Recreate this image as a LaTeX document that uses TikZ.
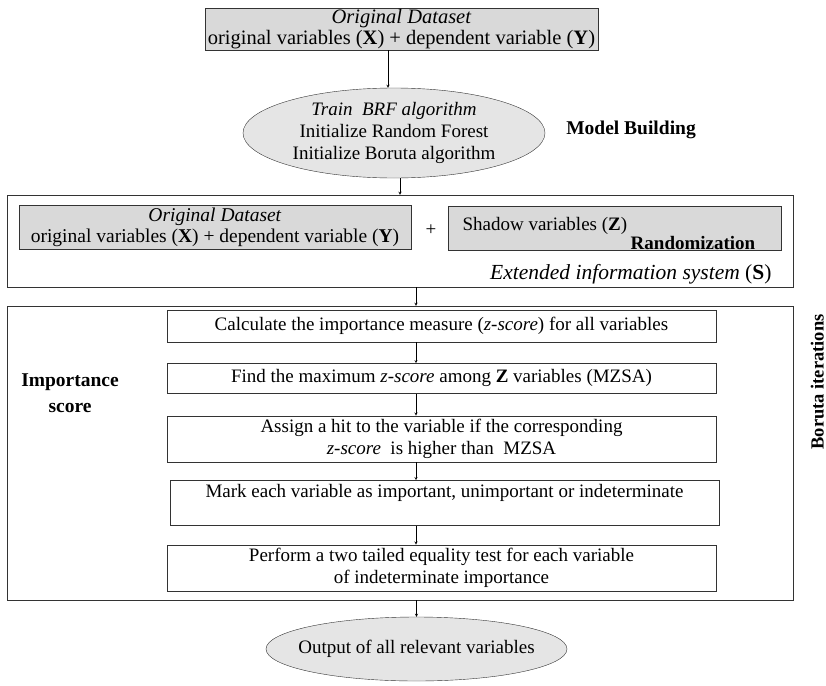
\documentclass[tikz,border=0pt]{standalone}
\usepackage{fontspec}
\setmainfont{Liberation Serif}
\usetikzlibrary{arrows,positioning,shapes,calc}

\begin{document}
\begin{tikzpicture}[
    x=1pt, y=-1pt,
    node distance=20pt,
    font=\fontsize{19}{22}\selectfont,
    data/.style={rectangle, draw=black!80, fill=black!15, align=center, inner sep=1pt},
    oval/.style={ellipse, draw=black!80, fill=black!10, align=center, inner xsep=-14pt, inner ysep=-6pt},
    frame/.style={rectangle, draw=black!80},
    stepbox/.style={rectangle, draw=black!80, minimum width=549pt, align=center},
    label/.style={font=\fontsize{19.5}{26}\selectfont\bfseries, align=center},
    arrow/.style={->, thin, >=stealth}
]
    \useasboundingbox (0,0) rectangle (826,685);

    \node[data, minimum width=393pt, minimum height=42pt, font=\fontsize{20.5}{21}\selectfont] (orig) at (401.5,29)
        {\textit{Original Dataset}\\original variables (\textbf{X}) + dependent variable (\textbf{Y})};
    \node[oval, minimum width=302pt, minimum height=90pt] (train) at (394,133)
        {\textit{Train\ \ BRF algorithm}\\Initialize Random Forest\\Initialize Boruta algorithm};
    \node[label] (build) at (631,130) {Model Building};

    % extended information system
    \node[frame, minimum width=786pt, minimum height=92pt] (ext) at (400,241) {};
    \node[data, minimum width=392pt, minimum height=44pt, font=\fontsize{19.5}{21}\selectfont] (origB) at (215,227)
        {\textit{Original Dataset}\\original variables (\textbf{X}) + dependent variable (\textbf{Y})};
    \node (plus) at (431,230) {+};
    \node[data, minimum width=333pt, minimum height=44pt] (shadow) at (614.5,228) {};
    \node[anchor=west] (shd) at (459,226) {Shadow variables (\textbf{Z})};
    \node[font=\fontsize{19}{22}\selectfont\bfseries] (rand) at (693,243) {Randomization};
    \node[anchor=east, font=\fontsize{21.5}{22}\selectfont] (extlbl) at (775,274) {\textit{Extended information system} (\textbf{S})};

    % boruta iterations
    \node[frame, minimum width=786pt, minimum height=294pt] (iter) at (400,453) {};
    \node[stepbox, minimum height=32pt] (step1) at (441.5,326)
        {Calculate the importance measure (\textit{z-score}) for all variables};
    \node[stepbox, minimum height=30pt, below=21pt of step1] (step2)
        {Find the maximum \textit{z-score} among \textbf{Z} variables (MZSA)};
    \node[stepbox, minimum height=45pt, below=22pt of step2] (step3)
        {Assign a hit to the variable if the corresponding\\\textit{z-score}\ \ is higher than\ \ MZSA};
    \node[stepbox, minimum height=45pt, below=18pt of step3, xshift=3pt] (step4)
        {Mark each variable as important, unimportant or indeterminate\\[-4pt]\strut};
    \node[stepbox, minimum height=44pt, below=19pt of step4, xshift=-3pt] (step5)
        {Perform a two tailed equality test for each variable\\of indeterminate importance};
    \node[label] (imp) at (70,393) {Importance\\score};
    \node[label, rotate=90, inner sep=0pt, anchor=south, font=\fontsize{18.5}{20}\selectfont\bfseries] (boruta) at (824,382) {Boruta iterations};

    \node[oval, minimum width=301pt, minimum height=64pt] (out) at (416.5,649) {Output of all relevant variables};

    \draw[arrow] ([xshift=-13.5pt]orig.south) -- ([xshift=-13.5pt]orig.south |- train.north);
    \draw[arrow] ([xshift=6pt]train.south) -- ([xshift=6pt]train.south |- ext.north);
    \draw[arrow] ([xshift=16pt]ext.south) -- ([xshift=16pt]ext.south |- iter.north);
    \foreach \a/\b in {step1/step2, step2/step3, step3/step4, step4/step5}
        \draw[arrow] ([xshift=-25.5pt]step1.south |- \a.south) -- ([xshift=-25.5pt]step1.south |- \b.north);
    \draw[arrow] (iter.south -| out.north) -- (out.north);
\end{tikzpicture}
\end{document}
